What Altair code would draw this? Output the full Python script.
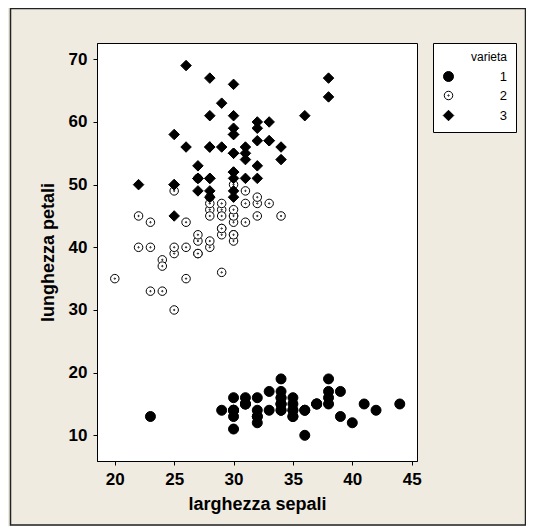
import altair as alt
import pandas as pd

# larghezza sepali (x10) and lunghezza petali (x10) per varieta
setosa_sw = [35,30,32,31,36,39,34,34,29,31,37,34,30,30,40,44,39,35,38,38,
             34,37,36,33,34,30,34,35,34,32,31,34,41,42,31,32,35,36,30,34,
             35,23,32,35,38,30,38,32,37,33]
setosa_pl = [14,14,13,15,14,17,14,15,14,15,15,16,14,11,12,15,13,14,17,15,
             17,15,10,17,19,16,16,15,14,16,16,15,15,14,15,12,13,14,13,15,
             13,13,13,16,19,14,16,14,15,14]
versicolor_sw = [32,32,31,23,28,28,33,24,29,27,20,30,22,29,29,31,30,27,22,25,
                 32,28,25,28,29,30,28,30,29,26,24,24,27,27,30,34,31,23,30,25,
                 26,30,26,23,27,30,29,29,25,28]
versicolor_pl = [47,45,49,40,46,45,47,33,46,39,35,42,40,47,36,44,45,41,45,39,
                 48,40,49,47,43,44,48,50,45,35,38,37,39,51,45,45,47,44,41,40,
                 44,46,40,33,42,42,42,43,30,41]
virginica_sw = [33,27,30,29,30,30,25,29,25,36,32,27,30,25,28,32,30,38,26,22,
                32,28,28,27,33,32,28,30,28,30,28,38,28,28,26,30,34,31,30,31,
                31,31,27,32,33,30,25,30,34,30]
virginica_pl = [60,51,59,56,58,66,45,63,58,61,51,53,55,50,51,53,55,67,69,50,
                57,49,67,49,57,60,48,49,56,58,61,64,56,51,56,61,56,55,48,54,
                56,51,51,59,57,52,50,52,54,51]

groups = ["1", "2", "3"]
x_ticks = [20, 25, 30, 35, 40, 45]
y_ticks = [10, 20, 30, 40, 50, 60, 70]

df = pd.DataFrame({
    "sw": setosa_sw + versicolor_sw + virginica_sw,
    "pl": setosa_pl + versicolor_pl + virginica_pl,
    "varieta": ["1"] * 50 + ["2"] * 50 + ["3"] * 50,
})

dot_circle = "M-1,0A1,1,0,1,1,1,0A1,1,0,1,1,-1,0Z"
ring = ("M-0.85,0A0.85,0.85,0,1,1,0.85,0A0.85,0.85,0,1,1,-0.85,0Z "
        "M-0.13,0A0.13,0.13,0,1,1,0.13,0A0.13,0.13,0,1,1,-0.13,0Z")
diamond = "M-1.05,0L0,-1.05L1.05,0L0,1.05Z"

FONT = "Liberation Sans"

legend = alt.Legend(
    orient="none", legendX=336, legendY=0,
    title="varieta", titleFont=FONT, titleFontSize=12, titleFontWeight="normal",
    titleColor="black", titleAnchor="end", titleAlign="right", titlePadding=6,
    labelFont=FONT, labelFontSize=13, labelColor="black", labelAlign="right",
    labelOffset=52, rowPadding=5,
    padding=9, strokeColor="black", fillColor="white",
    symbolStrokeColor="black", symbolStrokeWidth=1,
)

points = alt.Chart(df).mark_point(filled=False, strokeWidth=1, opacity=1, size=100).encode(
    x=alt.X("sw:Q", title="larghezza sepali",
            scale=alt.Scale(domain=[18.5, 45.45], nice=False, zero=False),
            axis=alt.Axis(values=x_ticks, titlePadding=8)),
    y=alt.Y("pl:Q", title="lunghezza petali",
            scale=alt.Scale(domain=[5.9, 72.6], nice=False, zero=False),
            axis=alt.Axis(values=y_ticks, titlePadding=11)),
    shape=alt.Shape("varieta:N", title="varieta",
                    scale=alt.Scale(domain=groups, range=[dot_circle, ring, diamond]),
                    legend=legend),
    fill=alt.Fill("varieta:N", title="varieta",
                  scale=alt.Scale(domain=groups, range=["black", "white", "black"]),
                  legend=legend),
    stroke=alt.Stroke("varieta:N", title="varieta",
                      scale=alt.Scale(domain=groups, range=["black", "black", "black"]),
                      legend=legend),
)

border = alt.Chart(alt.Data(values=[{"a": 1}])).mark_rect(
    fill="transparent", stroke="#222222", strokeWidth=1.5
).encode(
    x=alt.value(-86.5), x2=alt.value(428.5),
    y=alt.value(-34.5), y2=alt.value(482),
)

chart = alt.layer(border, points).properties(
    width=320, height=418,
    padding={"left": 89, "top": 35, "right": 109, "bottom": 65},
    autosize=alt.AutoSizeParams(type="none"),
    background="#EFEBE1",
).configure_view(
    stroke="black", strokeWidth=1, fill="white"
).configure_axis(
    grid=False, domainColor="black", domainWidth=1,
    tickColor="black", tickSize=4, tickWidth=1,
    labelFont=FONT, labelFontSize=17, labelFontWeight="bold", labelColor="black",
    labelPadding=6,
    titleFont=FONT, titleFontSize=18, titleFontWeight="bold", titleColor="black",
)

chart.save("out.html", embed_options={"renderer": "svg", "actions": False})
